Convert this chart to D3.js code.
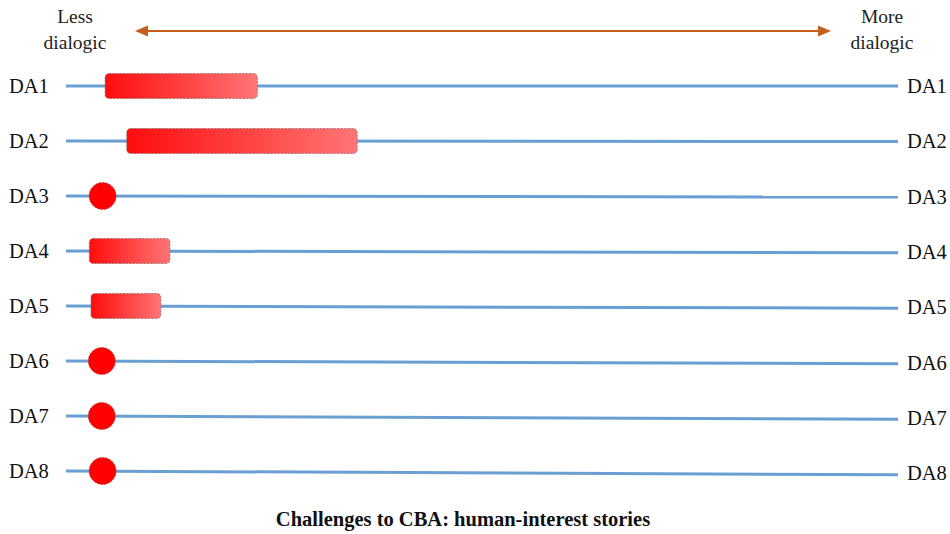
<!DOCTYPE html>
<html>
<head>
<meta charset="utf-8">
<script src="https://cdn.jsdelivr.net/npm/d3@7"></script>
<style>
  body { margin: 0; background: #fff; }
</style>
</head>
<body>
<div id="viz"></div>
<script>
// data
const rows = ["DA1", "DA2", "DA3", "DA4", "DA5", "DA6", "DA7", "DA8"];
// range on the dialogic scale (0 = less, 100 = more); equal start/end = single point
const rangeStart = [4.7, 7.3, 4.4, 2.8, 3.0, 4.3, 4.3, 4.4];
const rangeEnd   = [23.0, 35.0, 4.4, 12.5, 11.4, 4.3, 4.3, 4.4];
const leftLabel = ["Less", "dialogic"];
const rightLabel = ["More", "dialogic"];
const title = "Challenges to CBA: human-interest stories";

const width = 950, height = 534;
const serif = "'Liberation Serif', 'DejaVu Serif', 'Times New Roman', serif";

const svg = d3.select("#viz")
  .append("svg")
    .attr("width", width)
    .attr("height", height)
    .attr("font-family", serif);

const x = d3.scaleLinear()
  .domain([0, 100])
  .range([66, 898]);

const y = d3.scalePoint()
  .domain(rows)
  .range([86, 471]);

// gradient for the bars
const grad = svg.append("defs").append("linearGradient")
    .attr("id", "barGrad")
    .attr("x1", "0%").attr("x2", "100%");
grad.append("stop").attr("offset", "0%").attr("stop-color", "#ff0d0d");
grad.append("stop").attr("offset", "100%").attr("stop-color", "#ff7575");

// header arrow
const arrowColor = "#c4601c";
svg.append("line")
    .attr("x1", 145).attr("x2", 820)
    .attr("y1", 31).attr("y2", 31)
    .attr("stroke", arrowColor)
    .attr("stroke-width", 2);
svg.append("path")
    .attr("d", "M135,31 L148,25.5 L148,36.5 Z")
    .attr("fill", arrowColor);
svg.append("path")
    .attr("d", "M831,31 L818,25.5 L818,36.5 Z")
    .attr("fill", arrowColor);

// header labels
[[leftLabel, 75], [rightLabel, 882]].forEach(([lines, cx]) => {
  svg.append("text")
      .attr("text-anchor", "middle")
      .attr("font-size", 19.5)
      .attr("fill", "#222")
    .selectAll("tspan")
    .data(lines)
    .join("tspan")
      .attr("x", cx)
      .attr("y", (d, i) => 23 + i * 26)
      .text(d => d);
});

// row lines (slightly tilted like the original drawing)
const g = svg.append("g");
g.selectAll("line.row")
  .data(rows)
  .join("line")
    .attr("class", "row")
    .attr("x1", x(0)).attr("x2", x(100))
    .attr("y1", d => y(d))
    .attr("y2", (d, i) => y(d) + i * 0.55)
    .attr("stroke", "#6a9fd2")
    .attr("stroke-width", 3);

// row labels both sides
g.selectAll("text.left")
  .data(rows)
  .join("text")
    .attr("class", "left")
    .attr("x", 9)
    .attr("y", d => y(d) + 7)
    .attr("font-size", 20.5)
    .attr("fill", "#111")
    .text(d => d);
g.selectAll("text.right")
  .data(rows)
  .join("text")
    .attr("class", "right")
    .attr("x", 907)
    .attr("y", (d, i) => y(d) + 7 + i * 0.3)
    .attr("font-size", 20.5)
    .attr("fill", "#111")
    .text(d => d);

// marks
const marks = rows.map((r, i) => ({ row: r, s: rangeStart[i], e: rangeEnd[i] }));

g.selectAll("rect.bar")
  .data(marks.filter(d => d.e > d.s))
  .join("rect")
    .attr("class", "bar")
    .attr("x", d => x(d.s))
    .attr("y", d => y(d.row) - 12.5)
    .attr("width", d => x(d.e) - x(d.s))
    .attr("height", 25)
    .attr("rx", 4)
    .attr("fill", "url(#barGrad)")
    .attr("stroke", "#8a6a6a")
    .attr("stroke-width", 0.8)
    .attr("stroke-dasharray", "2,1.5");

g.selectAll("circle.dot")
  .data(marks.filter(d => d.e === d.s))
  .join("circle")
    .attr("class", "dot")
    .attr("cx", d => x(d.s))
    .attr("cy", d => y(d.row))
    .attr("r", 13.5)
    .attr("fill", "#fe0000")
    .attr("stroke", "#b04040")
    .attr("stroke-width", 0.8)
    .attr("stroke-dasharray", "2,1.5");

// title
svg.append("text")
    .attr("x", 463)
    .attr("y", 526)
    .attr("text-anchor", "middle")
    .attr("font-size", 20.5)
    .attr("font-weight", "bold")
    .attr("fill", "#111")
    .text(title);
</script>
</body>
</html>
